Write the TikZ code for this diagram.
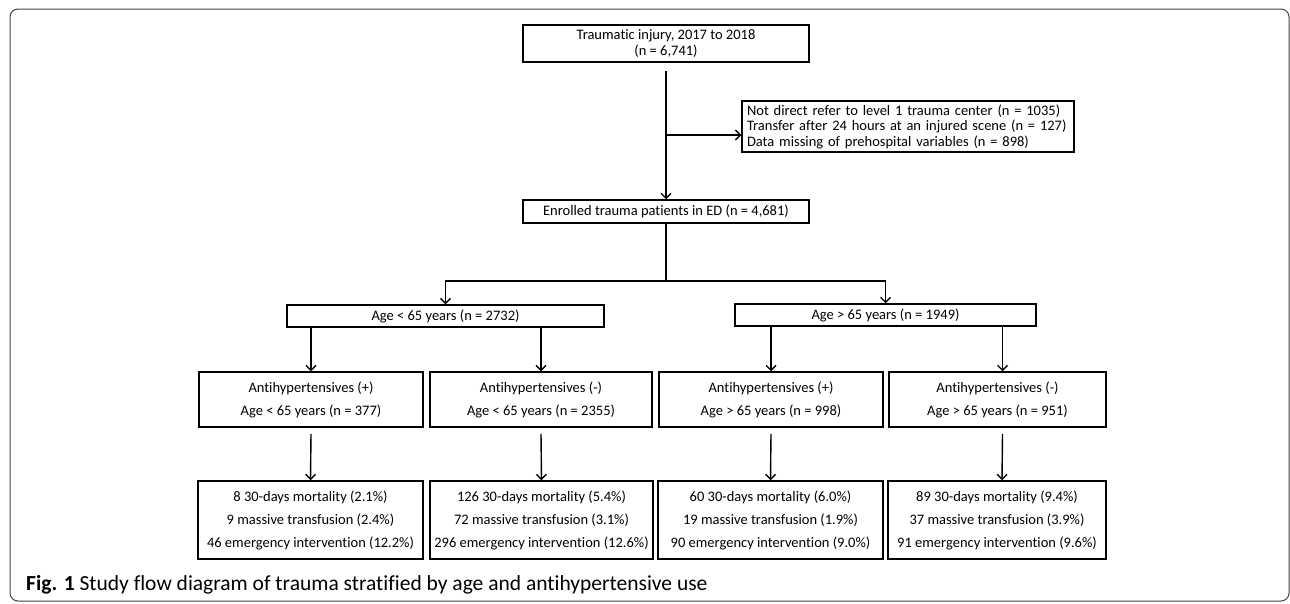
\documentclass[tikz,border=0pt]{standalone}
\usepackage{fontspec}
\setmainfont{Carlito}[Ligatures=CommonOff]
\usetikzlibrary{arrows.meta}

\begin{document}
\begin{tikzpicture}
  [x=1pt,y=-1pt,
  box/.style={draw=black,line width=1.5pt,inner sep=0pt,align=center,font=\fontsize{14.5}{15.5}\selectfont},
  bigbox/.style={box,font=\fontsize{14.5}{23}\selectfont,minimum height=55pt},
  resbox/.style={box,font=\fontsize{14.5}{23}\selectfont,minimum height=78pt},
  arr/.style={line width=1.4pt,-{Straight Barb[length=5pt,width=10pt]}}]
  \useasboundingbox (0,0) rectangle (1290,603);
  \draw[rounded corners=8pt,line width=1pt,black!75] (10,9) rectangle (1289,601);

  \node[box,minimum width=286pt,minimum height=37pt] (injury) at (666,43.5) {Traumatic injury, 2017 to 2018\\(n = 6,741)};
  \node[box,text width=322pt,inner xsep=5pt,minimum height=51pt,align=left] (excl) at (908,126.5) {Not direct refer to level 1 trauma center (n = 1035)\\Transfer after 24 hours at an injured scene (n = 127)\\Data missing of prehospital variables (n = 898)};
  \node[box,minimum width=286pt,minimum height=23pt] (enrol) at (666,211.5) {Enrolled trauma patients in ED (n = 4,681)};

  \node[box,minimum width=317pt,minimum height=22pt] (young) at (445.5,316) {Age < 65 years (n = 2732)};
  \node[box,minimum width=301pt,minimum height=22pt] (old) at (885.5,315) {Age > 65 years (n = 1949)};

  \node[bigbox,minimum width=224pt] (anti1) at (311,399.5) {Antihypertensives (+)\\Age < 65 years (n = 377)};
  \node[bigbox,minimum width=222pt] (anti2) at (541,399.5) {Antihypertensives (-)\\Age < 65 years (n = 2355)};
  \node[bigbox,minimum width=224pt] (anti3) at (771,399.5) {Antihypertensives (+)\\Age > 65 years (n = 998)};
  \node[bigbox,minimum width=217pt] (anti4) at (997.5,399.5) {Antihypertensives (-)\\Age > 65 years (n = 951)};

  \node[resbox,minimum width=225pt] (res1) at (310.5,520) {8 30-days mortality (2.1\%)\\9 massive transfusion (2.4\%)\\46 emergency intervention (12.2\%)};
  \node[resbox,minimum width=223pt] (res2) at (541.5,520) {126 30-days mortality (5.4\%)\\72 massive transfusion (3.1\%)\\296 emergency intervention (12.6\%)};
  \node[resbox,minimum width=225pt] (res3) at (770.5,520) {60 30-days mortality (6.0\%)\\19 massive transfusion (1.9\%)\\90 emergency intervention (9.0\%)};
  \node[resbox,minimum width=218pt] (res4) at (997,520) {89 30-days mortality (9.4\%)\\37 massive transfusion (3.9\%)\\91 emergency intervention (9.6\%)};

  \node[anchor=base west,inner sep=0pt,font=\fontsize{21.5}{24}\selectfont] (cap) at (26,590) {\textbf{Fig. 1} Study flow diagram of trauma stratified by age and antihypertensive use};

  \coordinate (split) at (666,135);
  \coordinate (fork) at (666,281);
  \draw[arr] ([yshift=-8pt]injury.south) -- (enrol.north);
  \draw[arr] (split) -- (split -| excl.west);
  \draw[line width=1.4pt] (enrol.south) -- (fork);
  \draw[arr] (fork) -| (young.north);
  \draw[arr] (fork) -| (old.north);

  \draw[arr] (anti1.north |- young.south) -- (anti1.north);
  \draw[arr] (anti2.north |- young.south) -- (anti2.north);
  \draw[arr] (anti3.north |- old.south) -- (anti3.north);
  \draw[arr] ([xshift=5pt]anti4.north |- old.south) -- ([xshift=5pt]anti4.north);

  \draw[arr] ([yshift=-6pt]anti1.south) -- (res1.north);
  \draw[arr] ([yshift=-6pt]anti2.south) -- (res2.north);
  \draw[arr] ([yshift=-6pt]anti3.south) -- (res3.north);
  \draw[arr] ([xshift=5pt,yshift=-6pt]anti4.south) -- ([xshift=5pt]res4.north);
\end{tikzpicture}
\end{document}
